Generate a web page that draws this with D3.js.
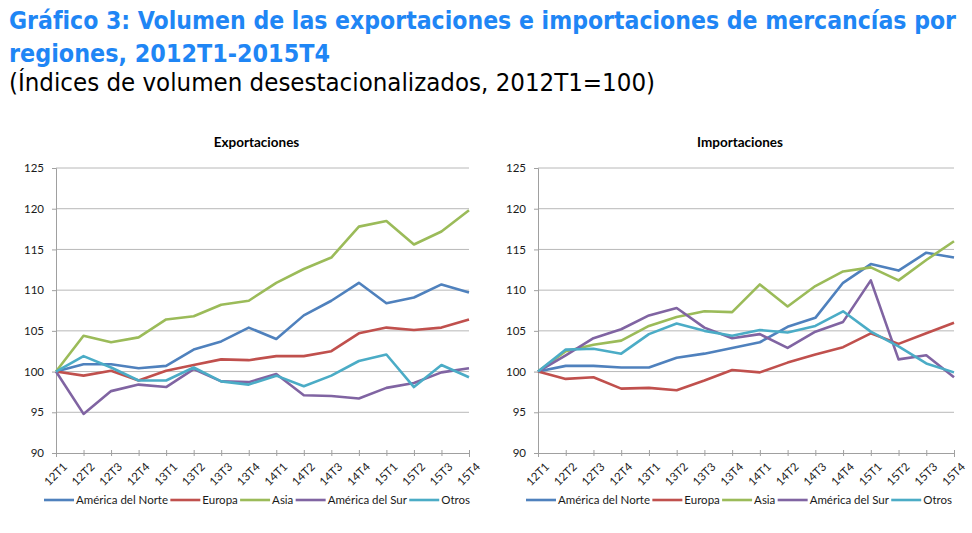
<!DOCTYPE html>
<html lang="es">
<head>
<meta charset="utf-8">
<script src="https://d3js.org/d3.v7.min.js"></script>
<style>
  body { margin: 0; background: #fff; }
  svg { display: block; }
</style>
</head>
<body>
<script>
// periods on the x axis
const periods = ["12T1","12T2","12T3","12T4","13T1","13T2","13T3","13T4",
                 "14T1","14T2","14T3","14T4","15T1","15T2","15T3","15T4"];
const yTicks = [90, 95, 100, 105, 110, 115, 120, 125];
const regions = ["América del Norte", "Europa", "Asia", "América del Sur", "Otros"];
const colors = ["#4f81bd", "#c0504d", "#9bbb59", "#8064a2", "#4bacc6"];

// Exportaciones
const expNorte = [100, 100.9, 100.9, 100.4, 100.7, 102.7, 103.7, 105.4, 104.0, 106.9, 108.7, 110.9, 108.4, 109.1, 110.7, 109.7];
const expEuropa = [100, 99.5, 100.1, 98.9, 100.1, 100.8, 101.5, 101.4, 101.9, 101.9, 102.5, 104.7, 105.4, 105.1, 105.4, 106.4];
const expAsia = [100, 104.4, 103.6, 104.2, 106.4, 106.8, 108.2, 108.7, 110.9, 112.6, 114.0, 117.8, 118.5, 115.6, 117.2, 119.8];
const expSur = [100, 94.8, 97.6, 98.4, 98.1, 100.3, 98.8, 98.7, 99.7, 97.1, 97.0, 96.7, 98.0, 98.6, 99.9, 100.4];
const expOtros = [100, 101.9, 100.5, 98.9, 98.9, 100.5, 98.8, 98.4, 99.5, 98.2, 99.5, 101.3, 102.1, 98.1, 100.8, 99.3];

// Importaciones
const impNorte = [100, 100.7, 100.7, 100.5, 100.5, 101.7, 102.2, 102.9, 103.6, 105.5, 106.6, 110.9, 113.2, 112.4, 114.6, 114.0];
const impEuropa = [100, 99.1, 99.3, 97.9, 98.0, 97.7, 98.9, 100.2, 99.9, 101.1, 102.1, 103.0, 104.7, 103.4, 104.7, 106.0];
const impAsia = [100, 102.5, 103.3, 103.8, 105.6, 106.7, 107.4, 107.3, 110.7, 108.0, 110.5, 112.3, 112.8, 111.2, 113.7, 116.0];
const impSur = [100, 102.0, 104.1, 105.2, 106.9, 107.8, 105.4, 104.1, 104.6, 102.9, 104.9, 106.1, 111.2, 101.5, 102.0, 99.3];
const impOtros = [100, 102.7, 102.8, 102.2, 104.6, 105.9, 105.0, 104.4, 105.1, 104.8, 105.6, 107.4, 104.9, 103.1, 101.0, 99.9];

const W = 972, H = 533;
const svg = d3.select("body").append("svg")
  .attr("width", W).attr("height", H);
svg.append("rect").attr("width", W).attr("height", H).attr("fill", "#fff");

// heading
const head = svg.append("g").attr("font-family", "'DejaVu Sans Condensed', 'DejaVu Sans', sans-serif");
head.append("text").attr("x", 9).attr("y", 29)
  .attr("font-size", 24).attr("font-weight", "bold").attr("fill", "#1f86f5")
  .attr("textLength", 947).attr("lengthAdjust", "spacingAndGlyphs")
  .text("Gráfico 3: Volumen de las exportaciones e importaciones de mercancías por");
head.append("text").attr("x", 9).attr("y", 62)
  .attr("font-size", 24).attr("font-weight", "bold").attr("fill", "#1f86f5")
  .attr("textLength", 321).attr("lengthAdjust", "spacingAndGlyphs")
  .text("regiones, 2012T1-2015T4");
head.append("text").attr("x", 9).attr("y", 91)
  .attr("font-size", 24).attr("fill", "#000")
  .attr("textLength", 646).attr("lengthAdjust", "spacingAndGlyphs")
  .text("(Índices de volumen desestacionalizados, 2012T1=100)");

function panel(title, series, x0, x1, legendX0, legendX1) {
  const g = svg.append("g").attr("font-family", "Lato, 'Open Sans', sans-serif");
  const x = d3.scalePoint().domain(periods).range([x0, x1]);
  const y = d3.scaleLinear().domain([90, 125]).range([453, 168]);

  g.append("text").attr("x", (x0 + x1) / 2 - 6).attr("y", 147)
    .attr("text-anchor", "middle").attr("font-size", 13.5).attr("font-weight", "bold")
    .attr("fill", "#000").text(title);

  // gridlines
  g.append("g").selectAll("line").data(yTicks.filter(d => d > 90)).join("line")
    .attr("x1", x0).attr("x2", x1)
    .attr("y1", d => y(d)).attr("y2", d => y(d))
    .attr("stroke", "#b8b8b8").attr("stroke-width", 1);

  // y axis
  const ya = g.append("g").attr("transform", `translate(${x0},0)`)
    .call(d3.axisLeft(y).tickValues(yTicks).tickSize(4).tickPadding(8));
  ya.select(".domain").attr("stroke", "#a0a0a0");
  ya.selectAll(".tick line").attr("stroke", "#a0a0a0");
  ya.selectAll("text").attr("font-size", 11.5).attr("fill", "#1a1a1a")
    .attr("font-family", "Lato, 'Open Sans', sans-serif");

  // x axis
  const xa = g.append("g").attr("transform", `translate(0,${y(90)})`)
    .call(d3.axisBottom(x).tickSize(4).tickPadding(4));
  xa.select(".domain").attr("stroke", "#a0a0a0");
  xa.selectAll(".tick line").attr("stroke", "#a0a0a0").attr("y1", -3).attr("y2", 3);
  xa.selectAll("text").attr("font-size", 11.5).attr("fill", "#1a1a1a")
    .attr("font-family", "Lato, 'Open Sans', sans-serif")
    .attr("text-anchor", "end").attr("dy", "0.35em")
    .attr("transform", "translate(3,6) rotate(-45)");

  // lines
  const line = d3.line().x((d, i) => x(periods[i])).y(d => y(d));
  g.append("g").selectAll("path").data(series).join("path")
    .attr("d", d => line(d))
    .attr("fill", "none")
    .attr("stroke", (d, i) => colors[i])
    .attr("stroke-width", 2.6)
    .attr("stroke-linejoin", "round");

  // legend
  const lg = g.append("g").attr("transform", "translate(0,500)");
  const items = lg.selectAll("g").data(regions).join("g");
  items.append("line").attr("x1", 0).attr("x2", 30).attr("y1", 0).attr("y2", 0)
    .attr("stroke", (d, i) => colors[i]).attr("stroke-width", 2.6);
  items.append("text").attr("x", 32).attr("y", 0).attr("dy", "0.35em")
    .attr("font-size", 11.5).attr("fill", "#1a1a1a").text(d => d);
  const widths = items.select("text").nodes().map(n => n.getComputedTextLength() + 32);
  const total = d3.sum(widths);
  const gap = (legendX1 - legendX0 - total) / (regions.length - 1);
  let cx = legendX0;
  items.attr("transform", (d, i) => {
    const t = `translate(${cx},0)`;
    cx += widths[i] + gap;
    return t;
  });
}

panel("Exportaciones", [expNorte, expEuropa, expAsia, expSur, expOtros], 56, 469, 44, 470);
panel("Importaciones", [impNorte, impEuropa, impAsia, impSur, impOtros], 538, 954, 526, 952);
</script>
</body>
</html>
